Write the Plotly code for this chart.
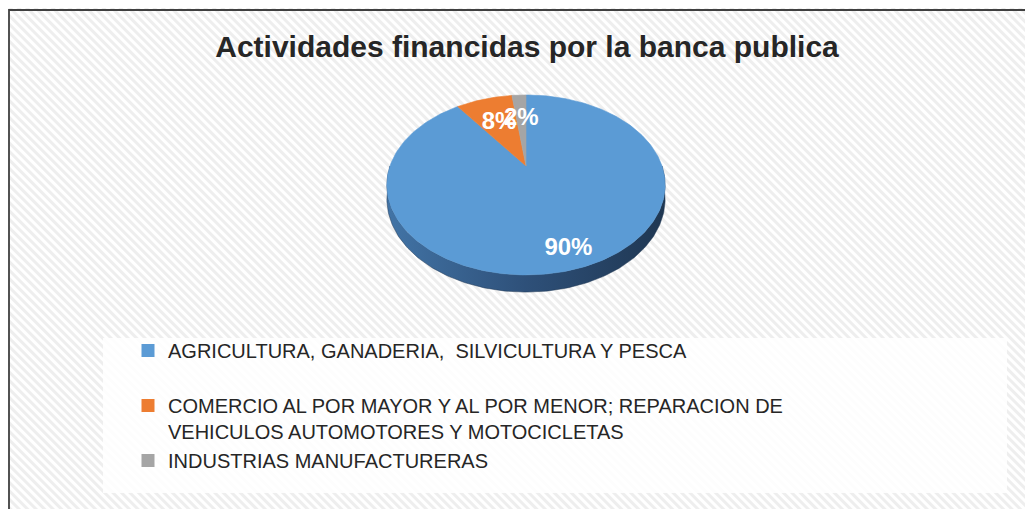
import math
import base64
import plotly.graph_objects as go

# ---------------- data ----------------
categories = [
    "AGRICULTURA, GANADERIA,\u00a0 SILVICULTURA Y PESCA",
    "COMERCIO AL POR MAYOR Y AL POR MENOR; REPARACION DE VEHICULOS AUTOMOTORES Y MOTOCICLETAS",
    "INDUSTRIAS MANUFACTURERAS",
]
values = [90, 8, 2]
title_text = "Actividades financidas por la banca publica"

# ---------------- style ----------------
OFF = 8                       # page body margin
W, H = 1033 - OFF, 509 - OFF  # figure size so page fits the window
top_colors = ["#5B9BD5", "#ED7D31", "#A5A5A5"]
side_scales = [
    [[0, "#4274a6"], [0.5, "#2e5079"], [1, "#1f3752"]],
    [[0, "#b85e22"], [1, "#7a3d14"]],
    [[0, "#808080"], [1, "#555555"]],
]
legend_names = [
    categories[0] + "<br>\u00a0",
    "COMERCIO AL POR MAYOR Y AL POR MENOR; REPARACION DE<br>VEHICULOS AUTOMOTORES Y MOTOCICLETAS",
    categories[2],
]
label_radius = [0.84, 0.6, 0.62]
FONT = "Liberation Sans, Arial, sans-serif"

# pie geometry (perspective ellipse, axis units == screen pixels)
CX, CY, A, B, P, DEPTH = 526, 166, 136, 86, 0.211, 13.5


def px(X):
    return (X - OFF) / W


def py(Y):
    return 1 - (Y - OFF) / H


def proj(r, theta_deg, drop=0.0):
    t = math.radians(theta_deg)
    u = r * math.sin(t)
    v = r * math.cos(t)
    w = 1 + P * v
    return CX + A * u / w, CY - B * v / w + drop / w


def arc(t0, t1, drop=0.0, n=None):
    if n is None:
        n = max(2, int(abs(t1 - t0)) + 1)
    xs, ys = [], []
    for i in range(n + 1):
        t = t0 + (t1 - t0) * i / n
        x, y = proj(1.0, t, drop)
        xs.append(x)
        ys.append(y)
    return xs, ys


total = sum(values)
bounds = [0.0]
for v in values:
    bounds.append(bounds[-1] + 360.0 * v / total)

fig = go.Figure()

# sides (visible front half: 90..270 degrees)
for i in range(len(values)):
    a0, a1 = max(bounds[i], 90.0), min(bounds[i + 1], 270.0)
    if a1 <= a0:
        continue
    tx, ty = arc(a0, a1)
    bx, by = arc(a1, a0, DEPTH)
    fig.add_trace(go.Scatter(
        x=tx + bx + [tx[0]], y=ty + by + [ty[0]],
        mode="lines", fill="toself",
        line=dict(width=0.5, color=side_scales[i][-1][1]),
        fillgradient=dict(type="horizontal", colorscale=side_scales[i]),
        showlegend=False, hoverinfo="skip",
    ))

# top faces
for i in range(len(values)):
    xs, ys = arc(bounds[i], bounds[i + 1])
    fig.add_trace(go.Scatter(
        x=[CX] + xs + [CX], y=[CY] + ys + [CY],
        mode="lines", fill="toself", fillcolor=top_colors[i],
        line=dict(width=0.6, color=top_colors[i]),
        showlegend=False, name=categories[i],
        hoverinfo="name",
    ))

# data labels
lx, ly, lt = [], [], []
for i, v in enumerate(values):
    mid = (bounds[i] + bounds[i + 1]) / 2
    x, y = proj(label_radius[i], mid)
    lx.append(x)
    ly.append(y)
    lt.append(f"{round(100 * v / total)}%")
fig.add_trace(go.Scatter(
    x=lx, y=ly, text=lt, mode="text",
    textfont=dict(family=FONT, size=24, color="white", weight="bold"),
    showlegend=False, hoverinfo="skip",
))

# legend entries
for i in range(len(values)):
    fig.add_trace(go.Scatter(
        x=[None], y=[None], mode="markers",
        marker=dict(symbol="square", size=13, color=top_colors[i]),
        name=legend_names[i], showlegend=True,
    ))

# hatched background as inline svg
svg = (
    f'<svg xmlns="http://www.w3.org/2000/svg" width="{W}" height="{H}">'
    '<defs><pattern id="p" width="6" height="6" patternUnits="userSpaceOnUse" '
    'patternTransform="rotate(-45)">'
    '<rect width="6" height="6" fill="#ffffff"/>'
    '<rect width="3" height="6" fill="#eeeeee"/></pattern></defs>'
    '<rect width="100%" height="100%" fill="url(#p)"/></svg>'
)
svg_uri = "data:image/svg+xml;base64," + base64.b64encode(svg.encode()).decode()

fig.update_layout(
    width=W, height=H,
    margin=dict(l=0, r=0, t=0, b=0),
    paper_bgcolor="white", plot_bgcolor="rgba(0,0,0,0)",
    xaxis=dict(range=[OFF, OFF + W], visible=False, fixedrange=True),
    yaxis=dict(range=[OFF + H, OFF], visible=False, fixedrange=True),
    images=[dict(source=svg_uri, xref="paper", yref="paper", x=0, y=1,
                 sizex=1, sizey=1, sizing="stretch", layer="below",
                 xanchor="left", yanchor="top")],
    shapes=[
        dict(type="rect", xref="x", yref="y", x0=103, x1=1007, y0=338, y1=493,
             fillcolor="rgba(255,255,255,0.85)", line=dict(width=0), layer="below"),
        dict(type="rect", xref="x", yref="y", x0=9, x1=1060, y0=10, y1=540,
             fillcolor="rgba(0,0,0,0)", line=dict(width=1.8, color="#404040")),
    ],
    title=dict(text=f"<b>{title_text}</b>", x=px(527), xanchor="center",
               y=py(46), yanchor="middle",
               font=dict(family=FONT, size=30, color="#262626")),
    legend=dict(x=px(128), y=py(331), xanchor="left", yanchor="top",
                bgcolor="rgba(0,0,0,0)", valign="top", tracegroupgap=0,
                font=dict(family=FONT, size=20, color="#262626")),
    showlegend=True,
)

fig.write_html("out.html")
